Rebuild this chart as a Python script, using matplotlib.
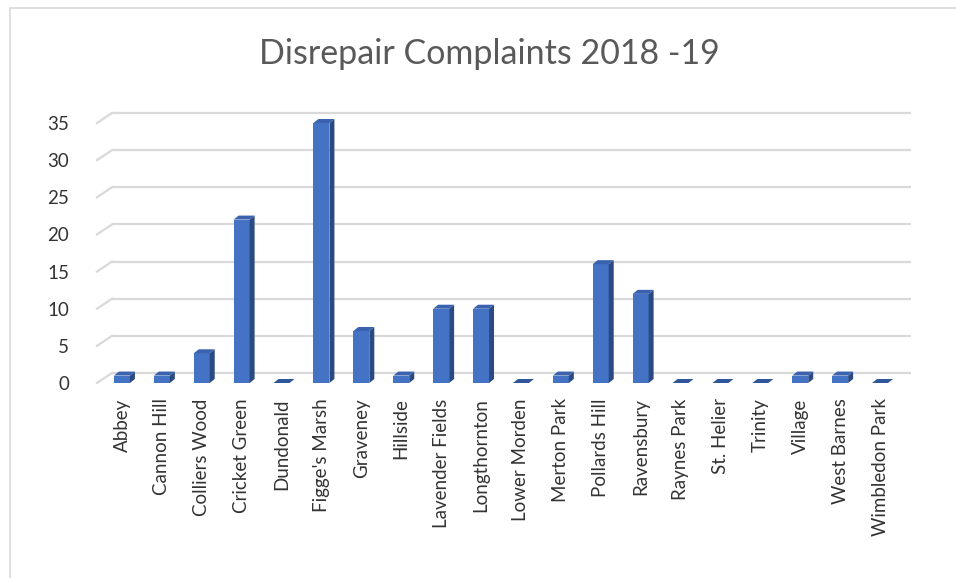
import numpy as np
import matplotlib.pyplot as plt
from matplotlib.patches import Rectangle

wards = [
    'Abbey', 'Cannon Hill', 'Colliers Wood', 'Cricket Green', 'Dundonald',
    "Figge's Marsh", 'Graveney', 'Hillside', 'Lavender Fields', 'Longthornton',
    'Lower Morden', 'Merton Park', 'Pollards Hill', 'Ravensbury', 'Raynes Park',
    'St. Helier', 'Trinity', 'Village', 'West Barnes', 'Wimbledon Park',
]
complaints = [1, 1, 4, 22, 0, 35, 7, 1, 10, 10, 0, 1, 16, 12, 0, 0, 0, 1, 1, 0]
yticks = [0, 5, 10, 15, 20, 25, 30, 35]
title = 'Disrepair Complaints 2018 -19'

plt.rcParams['font.family'] = ['Lato', 'DejaVu Sans']

W, H = 956, 578
fig = plt.figure(figsize=(W / 100, H / 100), dpi=100)

# axes placed in pixels: front floor at y=383, 35 at y=123
px_per_unit = 260 / 35
ymax = 37
left, right, bottom = 97, 896, 383
ax = fig.add_axes([left / W, (H - bottom) / H, (right - left) / W,
                   ymax * px_per_unit / H])
x = np.arange(len(wards))
x0, x1 = -0.625, len(wards) - 0.6
ax.set_xlim(x0, x1)
ax.set_ylim(0, ymax)
px_per_cat = (right - left) / (x1 - x0)

# back wall offset for the fake 3D look
dx = 15 / px_per_cat
dy = 10 / px_per_unit
grid_c = '#D9D9D9'
for v in yticks:
    ax.plot([x0 + dx, x1 + dx], [v + dy, v + dy], color=grid_c, lw=1.6,
            clip_on=False, zorder=1, solid_capstyle='butt')
    ax.plot([x0, x0 + dx], [v, v + dy], color=grid_c, lw=1.6,
            clip_on=False, zorder=1)

# bars: front, side and top faces
w = 0.4
ddx = 5 / px_per_cat
ddy = 4 / px_per_unit
vals = np.array(complaints, dtype=float)
ax.bar(x, vals, width=w, color='#4472C4', zorder=3)
for xi, v in zip(x, vals):
    r = xi + w / 2
    l = xi - w / 2
    if v > 0:
        ax.fill([r, r + ddx, r + ddx, r], [0, ddy, v + ddy, v],
                color='#2B4A82', zorder=3, lw=0)
    ax.fill([l, l + ddx, r + ddx, r], [v, v + ddy, v + ddy, v],
            color='#3A62AE' if v > 0 else '#2F559B', zorder=4, lw=0)

ax.set_xticks(x)
ax.set_xticklabels(wards, rotation=90, fontsize=13.5, color='#333333')
ax.set_yticks(yticks)
ax.set_yticklabels([str(t) for t in yticks], fontsize=13.5, color='#333333')
ax.tick_params(axis='both', length=0)
ax.tick_params(axis='y', pad=20)
ax.tick_params(axis='x', pad=11)
for s in ax.spines.values():
    s.set_visible(False)
ax.patch.set_visible(False)

fig.text(489 / W, 1 - 54 / H, title, ha='center', va='center',
         fontsize=24.5, color='#595959')

# chart border
fig.patches.append(Rectangle((10 / W, -0.1), 1.2, 1.1 - 8 / H,
                             transform=fig.transFigure, fill=False,
                             edgecolor='#D9D9D9', lw=1.2))

fig.savefig('out.png', dpi=100)
